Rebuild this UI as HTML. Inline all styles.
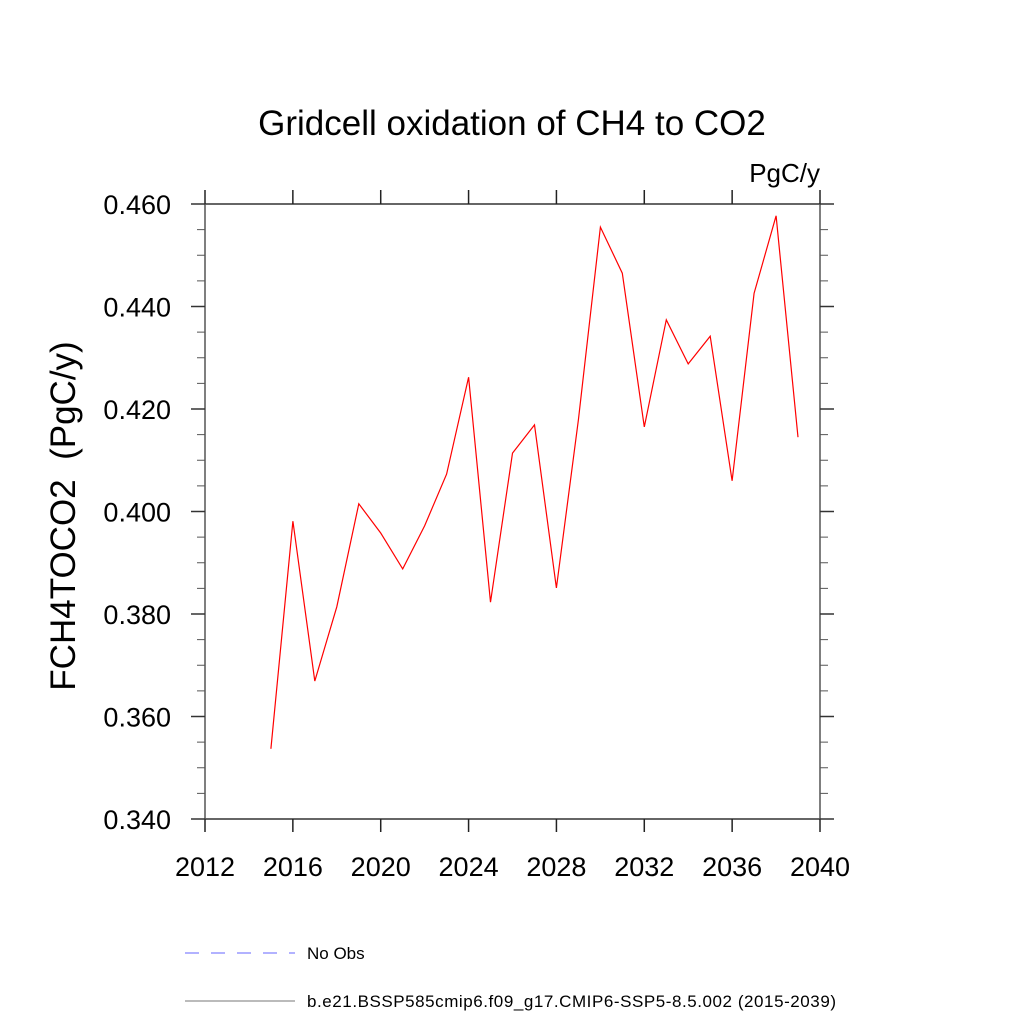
<!DOCTYPE html>
<html><head><meta charset="utf-8"><style>
body{margin:0;background:#fff}
svg{display:block;font-family:"Liberation Sans",sans-serif}
</style></head><body>
<svg id="c" width="1024" height="1024">
<text x="512" y="135" font-size="35" text-anchor="middle">Gridcell oxidation of CH4 to CO2</text>
<text x="820" y="182" font-size="26" text-anchor="end">PgC/y</text>
<text transform="translate(75,516) rotate(-90)" font-size="35" text-anchor="middle" xml:space="preserve">FCH4TOCO2  (PgC/y)</text>
<g id="axes"></g>
<path id="series" fill="none" stroke="#ff0000" stroke-width="1.2"></path>
<line x1="185" y1="953" x2="295" y2="953" stroke="#6666ff" stroke-width="1" stroke-dasharray="14,12"/>
<text x="307" y="959" font-size="17">No Obs</text>
<line x1="185" y1="1001" x2="295" y2="1001" stroke="#777" stroke-width="1"/>
<text x="307" y="1007" font-size="17" textLength="529">b.e21.BSSP585cmip6.f09_g17.CMIP6-SSP5-8.5.002 (2015-2039)</text>
</svg>
<script>
const years=[2015,2016,2017,2018,2019,2020,2021,2022,2023,2024,2025,2026,2027,2028,2029,2030,2031,2032,2033,2034,2035,2036,2037,2038,2039];
const values=[0.3537,0.3981,0.3669,0.3814,0.4015,0.3958,0.3888,0.3972,0.4073,0.4262,0.3823,0.4114,0.4169,0.3851,0.4179,0.4555,0.4465,0.4165,0.4374,0.4288,0.4342,0.4060,0.4426,0.4577,0.4145];
const xTicks=[2012,2016,2020,2024,2028,2032,2036,2040];
const yTicks=[0.340,0.360,0.380,0.400,0.420,0.440,0.460];
const L=205,R=820,T=204,B=819;
const xs=v=>L+(v-2012)/28*(R-L);
const ys=v=>B-(v-0.34)/0.12*(B-T);
const NS="http://www.w3.org/2000/svg";
const g=document.getElementById('axes');
function ln(x1,y1,x2,y2,c,w,n){const e=document.createElementNS(NS,'line');e.setAttribute('x1',x1);e.setAttribute('y1',y1);e.setAttribute('x2',x2);e.setAttribute('y2',y2);e.setAttribute('stroke',c);e.setAttribute('stroke-width',w);


g.appendChild(e);}
function tx(x,y,s,a,n){const e=document.createElementNS(NS,'text');e.setAttribute('x',x);e.setAttribute('y',y);e.setAttribute('font-size','27');e.setAttribute('text-anchor',a);e.textContent=s;


g.appendChild(e);}
ln(L,T,R,T,'#333',1.5,'plot-frame-top');ln(L,B,R,B,'#333',1.5,'plot-frame-bottom');
ln(L,T,L,B,'#555',1.5,'plot-frame-left');ln(R,T,R,B,'#555',1.5,'plot-frame-right');
xTicks.forEach(t=>{const x=xs(t);ln(x,B,x,B+13,'#222',1.5,'x-tick');ln(x,T,x,T-14,'#222',1.5,'x-tick-top');tx(x,B+57,String(t),'middle','x-tick-label');});
yTicks.forEach(t=>{const y=ys(t);ln(L-14,y,L,y,'#333',1.5,'y-tick');ln(R,y,R+14,y,'#333',1.5,'y-tick-right');tx(L-34,y+10,t.toFixed(3),'end','y-tick-label');});
for(let v=0.345;v<0.46;v+=0.005){if(Math.abs((v*1000)%20)<0.5||Math.abs((v*1000)%20-20)<0.5)continue;const y=ys(v);ln(L-8,y,L,y,'#555',1,'y-minor-tick');ln(R,y,R+8,y,'#555',1,'y-minor-tick-right');}
document.getElementById('series').setAttribute('d',years.map((y,i)=>(i?'L':'M')+xs(y).toFixed(1)+','+ys(values[i]).toFixed(1)).join(''));
</script>
</body></html>
